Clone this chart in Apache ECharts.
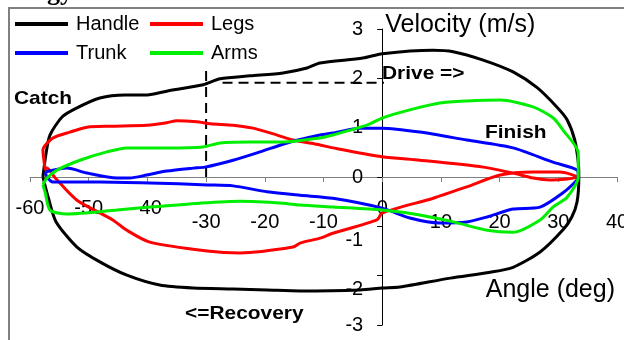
<!DOCTYPE html>
<html><head><meta charset="utf-8">
<script src="https://cdn.jsdelivr.net/npm/echarts@6/dist/echarts.min.js"></script>
<style>html,body{margin:0;padding:0;background:#fff;overflow:hidden}#c{width:624px;height:340px}</style>
</head><body><div id="c"></div>
<script>
// ---- data (angle deg, velocity m/s), each loop: drive (upper) then recovery (lower)
const seriesNames = ['Handle', 'Legs', 'Trunk', 'Arms'];
const xTicks = [-60, -50, -40, -30, -20, -10, 0, 10, 20, 30, 40];
const yTicks = [-3, -2, -1, 0, 1, 2, 3];

const handle = [[-57.8,0],[-57.3,0.45],[-56.6,0.85],[-54.5,1.22],[-52.0,1.40],[-48.1,1.60],[-43.8,1.66],[-40.4,1.66],[-36.7,1.74],[-30.5,1.87],[-27.6,1.99],[-22.5,2.05],[-16.9,2.11],[-12.8,2.21],[-10.6,2.31],[-3.3,2.41],[0,2.50],[8.6,2.57],[12.1,2.54],[17.2,2.37],[22.3,2.13],[26.4,1.81],[29.9,1.40],[31.5,1.16],[32.8,0.75],[33.4,0.3],[33.5,0],
  [33.2,-0.5],[32.3,-0.81],[30.8,-1.07],[26.9,-1.52],[22.3,-1.83],[18.4,-1.93],[11.6,-2.05],[3.0,-2.23],[0,-2.25],[-3.8,-2.29],[-14.0,-2.31],[-19.6,-2.29],[-25.4,-2.27],[-32.2,-2.25],[-37.9,-2.19],[-43.5,-1.99],[-48.1,-1.72],[-52.0,-1.42],[-55.6,-0.9],[-56.9,-0.41],[-57.8,0]];

const legs = [[-57.4,0.14],[-57.8,0.55],[-56.1,0.79],[-53.2,0.91],[-50.3,1.01],[-46.4,1.03],[-40.1,1.05],[-36.7,1.10],[-35.0,1.14],[-31.6,1.12],[-29.3,1.08],[-25.4,1.05],[-22.0,0.99],[-17.9,0.85],[-15.2,0.75],[-10.6,0.65],[-8.4,0.59],[0,0.41],[6.4,0.34],[17.2,0.20],[22.3,0.08],[25.7,-0.02],[28.6,-0.06],[31.5,-0.04],[33.2,0],
  [30.3,0.10],[28.1,0.10],[25.7,0.10],[20.1,0.04],[14.4,-0.20],[8.7,-0.43],[0,-0.73],[-0.9,-0.87],[-8.4,-1.14],[-10.6,-1.24],[-14.0,-1.34],[-15.2,-1.42],[-24.2,-1.54],[-29.8,-1.50],[-39.6,-1.32],[-43.5,-1.08],[-45.9,-0.87],[-52.0,-0.47],[-55.7,-0.02],[-57.1,0.18],[-57.4,0.14]];

const trunk = [[-57.4,0.10],[-53.7,0.18],[-50.3,0.08],[-45.2,-0.02],[-43.0,-0.02],[-40.1,0.04],[-36.7,0.12],[-32.2,0.18],[-30.2,0.20],[-25.4,0.34],[-20.8,0.51],[-16.2,0.69],[-10.6,0.85],[-8.4,0.89],[-3.8,0.99],[0,0.99],[6.4,0.91],[14.4,0.75],[22.3,0.59],[29.1,0.30],[33.2,0.14],[33.4,0],
  [33.2,-0.06],[30.8,-0.32],[26.9,-0.61],[22.3,-0.65],[17.9,-0.81],[14.4,-0.91],[9.8,-0.93],[4.7,-0.83],[0,-0.63],[-8.4,-0.43],[-14.0,-0.37],[-19.6,-0.30],[-25.4,-0.18],[-29.8,-0.16],[-39.6,-0.12],[-48.1,-0.10],[-56.1,-0.10],[-57.1,0],[-57.4,0.10]];

const arms = [[-57.8,-0.16],[-57.1,-0.02],[-55.4,0.14],[-51.5,0.34],[-46.9,0.51],[-43.5,0.59],[-36.7,0.59],[-30.5,0.61],[-27.6,0.69],[-22.5,0.71],[-16.9,0.71],[-10.6,0.79],[-8.4,0.85],[-2.6,1.05],[0.1,1.20],[4.7,1.36],[9.8,1.50],[14.4,1.54],[20.1,1.56],[25.7,1.42],[29.1,1.20],[30.8,0.95],[33.4,0.49],[33.4,0.14],[33.4,0],
  [31.5,-0.41],[29.1,-0.61],[26.9,-0.87],[22.3,-1.12],[17.9,-1.08],[12.1,-0.91],[6.4,-0.77],[0,-0.67],[-8.4,-0.61],[-14.0,-0.57],[-16.9,-0.53],[-24.2,-0.49],[-31.0,-0.53],[-39.6,-0.61],[-45.2,-0.67],[-53.7,-0.75],[-56.6,-0.67],[-57.4,-0.32],[-57.8,-0.16]];

const catchMarkV = [[-30,0],[-30,2.2]];
const catchMarkH = [[-27.2,1.91],[0.3,1.91]];

// ---- styling / layout
const FONT = 'Liberation Sans, Arial, sans-serif';
const colors = ['#000000', '#ff0000', '#0000ff', '#00ee00'];
const loops = [handle, legs, trunk, arms];
const lowX = new Set([-30, -20, -10, 10, 20, 30, 40]);
const lowY = new Set([-1, -2]);
const GRID = {left: 30, top: 29, width: 587, height: 296};
// axes drawn through the zero point of the other axis
const xAxisOffset = -(GRID.height / 2);              // y range is symmetric (-3..3)
const yAxisOffset = -(GRID.width * 60 / 100);        // x=0 sits 60% across (-60..40)

const chart = echarts.init(document.getElementById('c'), null, {renderer: 'canvas'});
const series = seriesNames.map((n, i) => ({
  name: n, type: 'line', data: loops[i], showSymbol: false, symbol: 'none',
  smooth: 0.25, lineStyle: {color: colors[i], width: 3}, itemStyle: {color: colors[i]},
  z: 3 + i, animation: false
}));
[catchMarkV, catchMarkH].forEach((d, i) => series.push({
  name: 'mark' + i, type: 'line', data: d, symbol: 'none', silent: true,
  lineStyle: {color: '#000', width: 2, type: [10, 6]}, z: 2, animation: false
}));

const legendCommon = {
  orient: 'vertical', top: 14, padding: 0, itemGap: 9, itemWidth: 53, itemHeight: 4,
  icon: 'rect', selectedMode: false,
  textStyle: {fontFamily: FONT, fontSize: 20, color: '#000', lineHeight: 20, padding: [0, 0, 0, 3]}
};
const boldText = (text, x, y) => ({
  type: 'text', x: x, y: y, scaleX: 1.1, z: 20,
  style: {text: text, fontFamily: FONT, fontSize: 19, fontWeight: 'bold', fill: '#000',
          textAlign: 'left', textVerticalAlign: 'middle'}
});

chart.setOption({
  animation: false,
  grid: Object.assign({containLabel: false, outerBoundsMode: 'none'}, GRID),
  legend: [
    Object.assign({left: 15, data: ['Handle', 'Trunk']}, legendCommon),
    Object.assign({left: 150, data: ['Legs', 'Arms']}, legendCommon)
  ],
  xAxis: {
    type: 'value', min: xTicks[0], max: xTicks[xTicks.length - 1], interval: 10,
    position: 'bottom', offset: xAxisOffset,
    splitLine: {show: false},
    axisLine: {onZero: false, lineStyle: {color: '#808080', width: 1}},
    axisTick: {show: true, length: 5, lineStyle: {color: '#808080'}},
    axisLabel: {
      margin: 21, color: '#000', fontFamily: FONT, fontSize: 20, showMinLabel: true, showMaxLabel: true,
      hideOverlap: false,
      formatter: v => (lowX.has(v) ? '{lo|' : '{hi|') + v + '}',
      rich: {hi: {fontFamily: FONT, fontSize: 20, lineHeight: 20, color: '#000'},
             lo: {fontFamily: FONT, fontSize: 20, lineHeight: 20, color: '#000', padding: [28, 0, 0, 0]}}
    },
    name: 'Angle (deg)', nameLocation: 'end', nameGap: 0, nameMoveOverlap: false,
    nameTextStyle: {fontFamily: FONT, fontSize: 25, color: '#000', align: 'right', verticalAlign: 'top', lineHeight: 25, padding: [101, 2, 0, 0]}
  },
  yAxis: {
    type: 'value', min: yTicks[0], max: yTicks[yTicks.length - 1], interval: 1,
    position: 'left', offset: yAxisOffset,
    splitLine: {show: false},
    axisLine: {onZero: false, lineStyle: {color: '#000', width: 1}},
    axisTick: {show: true, length: 5, lineStyle: {color: '#000'}},
    axisLabel: {
      margin: 19, color: '#000', fontFamily: FONT, fontSize: 20, showMinLabel: true, showMaxLabel: true,
      hideOverlap: false,
      formatter: v => (lowY.has(v) ? '{lo|' : '{hi|') + v + '}',
      rich: {hi: {fontFamily: FONT, fontSize: 20, lineHeight: 20, color: '#000'},
             lo: {fontFamily: FONT, fontSize: 20, lineHeight: 20, color: '#000', padding: [28, 0, 0, 0]}}
    },
    name: 'Velocity (m/s)', nameLocation: 'end', nameGap: 4, nameMoveOverlap: false,
    nameTextStyle: {fontFamily: FONT, fontSize: 25, color: '#000', align: 'left', verticalAlign: 'middle', lineHeight: 25, padding: [0, 0, 0, 3]}
  },
  graphic: [
    {type: 'rect', shape: {x: 9, y: 8, width: 700, height: 400}, z: -1,
     style: {fill: 'none', stroke: '#808080', lineWidth: 2}},
    {type: 'text', x: -2, y: 6, z: 20,
     style: {text: 'energy.', fontFamily: 'Liberation Serif, Times New Roman, serif', fontSize: 26, fontWeight: 'bold',
             fill: '#000', textAlign: 'left', textVerticalAlign: 'bottom'}},
    boldText('Catch', 14, 98.5),
    boldText('Finish', 485, 132.5),
    boldText('Drive =>', 382, 73.5),
    boldText('<=Recovery', 185, 313.5)
  ],
  series: series
});
</script></body></html>
